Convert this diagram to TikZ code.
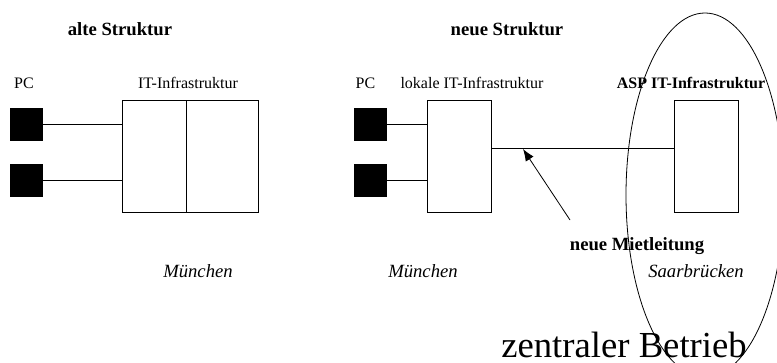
\documentclass[tikz,border=0pt]{standalone}
\usepackage{fontspec}
\setmainfont{Liberation Serif}
\usetikzlibrary{arrows.meta}
\tikzset{
  pcbox/.style={fill=black, inner sep=0pt, minimum size=24.75pt},
  itbox/.style={draw, line width=0.6pt, inner sep=0pt, minimum height=84pt},
  lbl/.style={anchor=base, inner sep=0pt, font=\fontsize{12}{14}\selectfont},
  ttl/.style={anchor=base, inner sep=0pt, font=\fontsize{14}{16}\selectfont\bfseries},
  city/.style={anchor=base, inner sep=0pt, font=\fontsize{14}{16}\selectfont\itshape},
  wire/.style={line width=0.6pt}
}
\begin{document}
\begin{tikzpicture}[x=0.75pt, y=-0.75pt]
  \useasboundingbox[fill=white] (0,0) rectangle (777,363);
  % alte Struktur
  \node[ttl] (tAlt) at (120,36) {alte Struktur};
  \node[lbl] (pcAlt) at (24,89) {PC};
  \node[lbl] (itAlt) at (188,89) {IT-Infrastruktur};
  \node[pcbox] (pcA1) at (26.5,124.5) {}; \node[pcbox] (pcA2) at (26.5,180.5) {};
  \node[itbox, minimum width=48pt] (altL) at (154,156) {};
  \node[itbox, minimum width=54pt] (altR) at (222,156) {};
  \draw[wire] (pcA1.east) -- (pcA1.east -| altL.west);
  \draw[wire] (pcA2.east) -- (pcA2.east -| altL.west);
  \node[city] (muA) at (198,277) {München};
  % neue Struktur
  \node[ttl] (tNeu) at (507,36) {neue Struktur};
  \node[lbl] (pcNeu) at (365.5,89) {PC};
  \node[lbl] (itLok) at (472,89) {lokale IT-Infrastruktur};
  \node[lbl, font=\fontsize{12}{14}\selectfont\bfseries] (itAsp) at (691,89) {ASP IT-Infrastruktur};
  \node[pcbox] (pcN1) at (370.5,124.5) {}; \node[pcbox] (pcN2) at (370.5,180.5) {};
  \node[itbox, minimum width=48pt] (lok) at (459,156) {};
  \node[itbox, minimum width=48pt] (asp) at (706,156) {};
  \draw[wire] (pcN1.east) -- (pcN1.east -| lok.west);
  \draw[wire] (pcN2.east) -- (pcN2.east -| lok.west);
  \draw[wire] ([yshift=6pt]lok.east) -- ([yshift=6pt]asp.west);
  \coordinate (mlTip) at (523,149); \coordinate (mlTail) at (570,220);
  \draw[wire, -{Latex[length=9pt, width=7pt]}] (mlTail) -- (mlTip);
  \node[ttl] (ml) at (637,250) {neue Mietleitung};
  \node[city] (muN) at (423,277) {München};
  \node[city] (sb) at (696,277) {Saarbrücken};
  \node[anchor=base, inner sep=0pt, font=\fontsize{27.5}{30}\selectfont] (zb) at (624,357) {zentraler Betrieb};
  \draw[line width=0.6pt] (705,195) ellipse [x radius=79, y radius=182];
\end{tikzpicture}
\end{document}
